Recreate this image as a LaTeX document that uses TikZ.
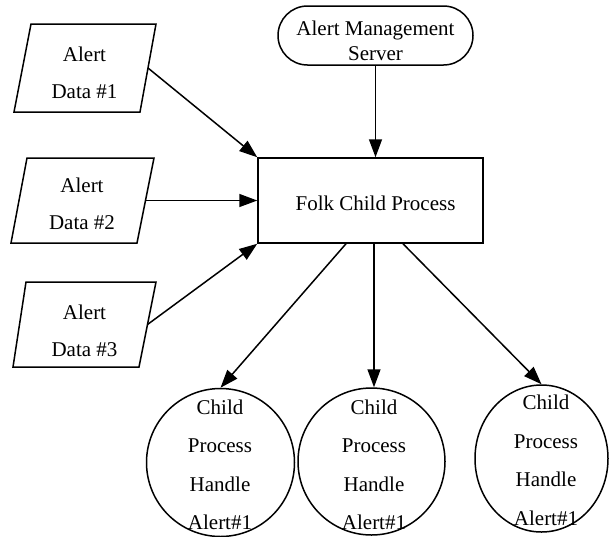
\documentclass[tikz,border=0pt]{standalone}
\usepackage{fontspec}
\setmainfont{Liberation Serif}
\usetikzlibrary{shapes.geometric,shapes.misc,arrows.meta,calc}

\begin{document}
\begin{tikzpicture}[x=1pt,y=-1pt,
  line width=1.5pt,
  every node/.style={inner sep=0pt},
  label/.style={align=center},
  outline/.style={line width=1.5pt, line join=miter},
  proc/.style={draw, circle},
  flow/.style={-{Triangle[length=18pt,width=13pt]}, line width=1.5pt},
]
\useasboundingbox[fill=white] (0,0) rectangle (610,536);

% input data (parallelograms)
\draw[outline] (31,24) -- (156,24) -- (140,112) -- (14,112) -- cycle;
\draw[outline] (27,158) -- (154,158) -- (137,243) -- (11,243) -- cycle;
\draw[outline] (26,282) -- (156,282) -- (139,367) -- (13,367) -- cycle;
\coordinate (p1) at (148,68);
\coordinate (p2) at (145.5,200.5);
\coordinate (p3) at (147.5,324.5);
\node[label, font=\fontsize{21}{37}\selectfont] (p1t) at (84.5,73) {Alert\\Data \#1};
\node[label, font=\fontsize{21}{37}\selectfont] (p2t) at (82,203.5) {Alert\\Data \#2};
\node[label, font=\fontsize{21}{37}\selectfont] (p3t) at (84.5,330.5) {Alert\\Data \#3};

% server and forking process
\node[draw, rounded rectangle, minimum width=195pt, minimum height=59pt] (srv) at (375.5,35.5) {};
\node[label, font=\fontsize{21}{25}\selectfont] (srvt) at (375.5,40.5) {Alert Management\\Server};
\node[draw, minimum width=225pt, minimum height=85pt] (box) at (370.5,200.5) {};
\node[font=\fontsize{21}{25}\selectfont] (boxt) at (375.5,203) {Folk Child Process};

% child processes
\node[proc, minimum size=148pt] (c1) at (220.5,462.5) {};
\node[proc, minimum size=147pt] (c2) at (371.5,461.5) {};
\node[draw, ellipse, minimum width=133pt, minimum height=147pt] (c3) at (541.5,458.5) {};
\node[label, font=\fontsize{21}{38.5}\selectfont] (c1t) at (220,465) {Child\\Process\\Handle\\Alert\#1};
\node[label, font=\fontsize{21}{38.5}\selectfont] (c2t) at (374,465) {Child\\Process\\Handle\\Alert\#1};
\node[label, font=\fontsize{21}{38.5}\selectfont] (c3t) at (546,460.5) {Child\\Process\\Handle\\Alert\#1};

% connectors
\coordinate (b1) at ($(box.south)+(-24.5,0)$);
\coordinate (b2) at ($(box.south)+(3.5,0)$);
\coordinate (b3) at ($(box.south)+(32.5,0)$);

\draw[flow] (p1) -- (box.north west);
\draw[flow] (p2) -- (p2 -| box.west);
\draw[flow] (p3) -- (box.south west);
\draw[flow] (srv.south) -- (srv.south |- box.north);
\draw[flow] (b1) -- (c1.north);
\draw[flow] (b2) -- (b2 |- c2.north);
\draw[flow] (b3) -- (c3.north);
\end{tikzpicture}
\end{document}
